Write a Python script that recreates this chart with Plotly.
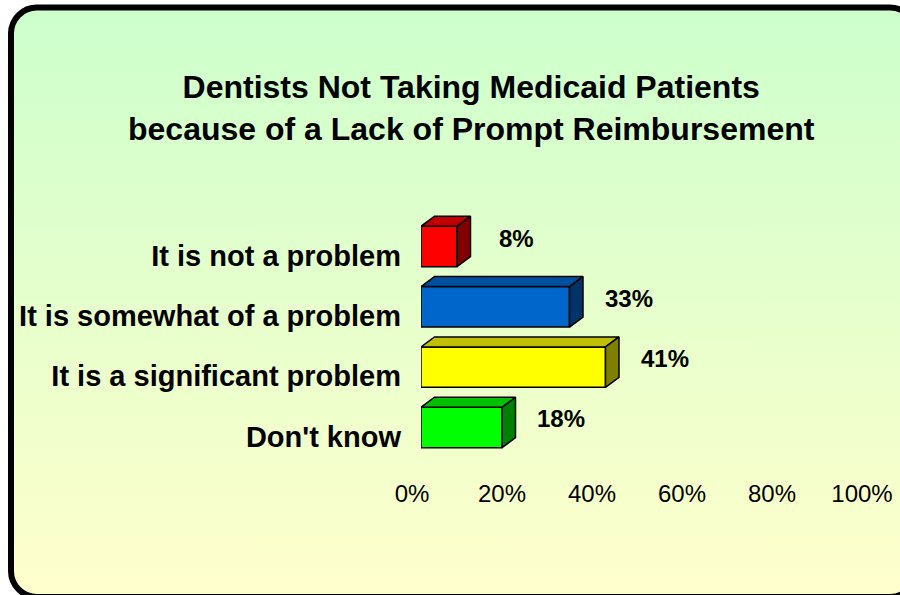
import base64
import plotly.graph_objects as go

# ---- data ----
categories = ["It is not a problem", "It is somewhat of a problem",
              "It is a significant problem", "Don't know"]
values = [8, 33, 41, 18]
x_tick_vals = [0, 20, 40, 60, 80, 100]
x_tick_text = ["0%", "20%", "40%", "60%", "80%", "100%"]
title_lines = ["Dentists Not Taking Medicaid Patients",
               "because of a Lack of Prompt Reimbursement"]

# ---- styles ----
front_colors = ["#FF0000", "#0066CC", "#FFFF00", "#00FF00"]
top_colors = ["#C00000", "#0050A0", "#C0C000", "#00C000"]
side_colors = ["#800000", "#003366", "#808000", "#008000"]
FONT = "Liberation Sans, Arial, sans-serif"
W, H = 900, 595
BAR_W = 0.67          # bar thickness in category units
DEPTH_X = 3.0         # 3D depth offset in % units
DEPTH_Y = 0.166       # 3D depth offset in category units

n = len(categories)
ypos = [n - 1 - i for i in range(n)]

fig = go.Figure()

# front faces
fig.add_trace(go.Bar(
    x=values, y=ypos, orientation="h", width=BAR_W,
    marker=dict(color=front_colors, line=dict(color="black", width=1.5)),
    hoverinfo="skip", showlegend=False,
))

# top and side faces (3D effect)
for v, yc, tc, sc in zip(values, ypos, top_colors, side_colors):
    t = yc + BAR_W / 2
    b = yc - BAR_W / 2
    fig.add_trace(go.Scatter(
        x=[0, v, v + DEPTH_X, DEPTH_X, 0],
        y=[t, t, t + DEPTH_Y, t + DEPTH_Y, t],
        mode="lines", fill="toself", fillcolor=tc,
        line=dict(color="black", width=1.5), hoverinfo="skip", showlegend=False,
    ))
    fig.add_trace(go.Scatter(
        x=[v, v, v + DEPTH_X, v + DEPTH_X, v],
        y=[b, t, t + DEPTH_Y, b + DEPTH_Y, b],
        mode="lines", fill="toself", fillcolor=sc,
        line=dict(color="black", width=1.5), hoverinfo="skip", showlegend=False,
    ))

# data labels
for v, yc in zip(values, ypos):
    fig.add_annotation(
        x=v, y=yc, text=f"{v}%", showarrow=False, xanchor="center", yanchor="middle",
        xshift=59, yshift=8.5,
        font=dict(family=FONT, size=24, color="black", weight="bold"),
    )

# title
fig.add_annotation(
    x=471 / W, y=1 - 108 / H, xref="paper", yref="paper",
    text="<br>".join(f"<b>{s}</b>" for s in title_lines),
    showarrow=False, xanchor="center", yanchor="middle", align="center",
    font=dict(family=FONT, size=32, color="black"),
)

# background frame with gradient
svg = (
    f'<svg xmlns="http://www.w3.org/2000/svg" width="{W}" height="{H}" viewBox="0 0 {W} {H}">'
    '<defs><linearGradient id="g" x1="0" y1="0" x2="0" y2="1">'
    '<stop offset="0" stop-color="#CCFFCC"/><stop offset="1" stop-color="#FFFFCC"/>'
    '</linearGradient></defs>'
    '<rect x="11" y="7.5" width="905" height="589.5" rx="26" ry="26" '
    'fill="url(#g)" stroke="#000" stroke-width="6"/></svg>'
)
src = "data:image/svg+xml;base64," + base64.b64encode(svg.encode()).decode()

y_lo, y_hi = -0.6, 3.6
px_per_unit = 60.33
top_px = 246.5 - (y_hi - 3) * px_per_unit
bot_px = top_px + (y_hi - y_lo) * px_per_unit

fig.update_layout(
    template="none",
    width=W, height=H,
    margin=dict(l=0, r=0, t=0, b=0, pad=0),
    paper_bgcolor="white", plot_bgcolor="rgba(0,0,0,0)",
    images=[dict(source=src, xref="paper", yref="paper", x=0, y=1, sizex=1, sizey=1,
                 xanchor="left", yanchor="top", sizing="stretch", layer="below")],
    xaxis=dict(
        domain=[421 / W, 871 / W], range=[0, 100], automargin=False,
        tickvals=x_tick_vals, ticktext=x_tick_text,
        showgrid=False, zeroline=False, showline=False,
        ticks="", ticklabelshift=-9, ticklabelstandoff=13,
        tickfont=dict(family=FONT, size=24, color="black"),
        fixedrange=True,
    ),
    yaxis=dict(
        domain=[1 - bot_px / H, 1 - top_px / H], range=[y_lo, y_hi], automargin=False,
        tickvals=ypos, ticktext=categories,
        showgrid=False, zeroline=False, showline=False,
        ticks="", ticklabelshift=9, ticklabelstandoff=19,
        tickfont=dict(family=FONT, size=29, color="black", weight="bold"),
        fixedrange=True,
    ),
    showlegend=False,
)

fig.write_html("out.html", config={"displayModeBar": False},
               post_script="document.body.style.margin='0px';")
